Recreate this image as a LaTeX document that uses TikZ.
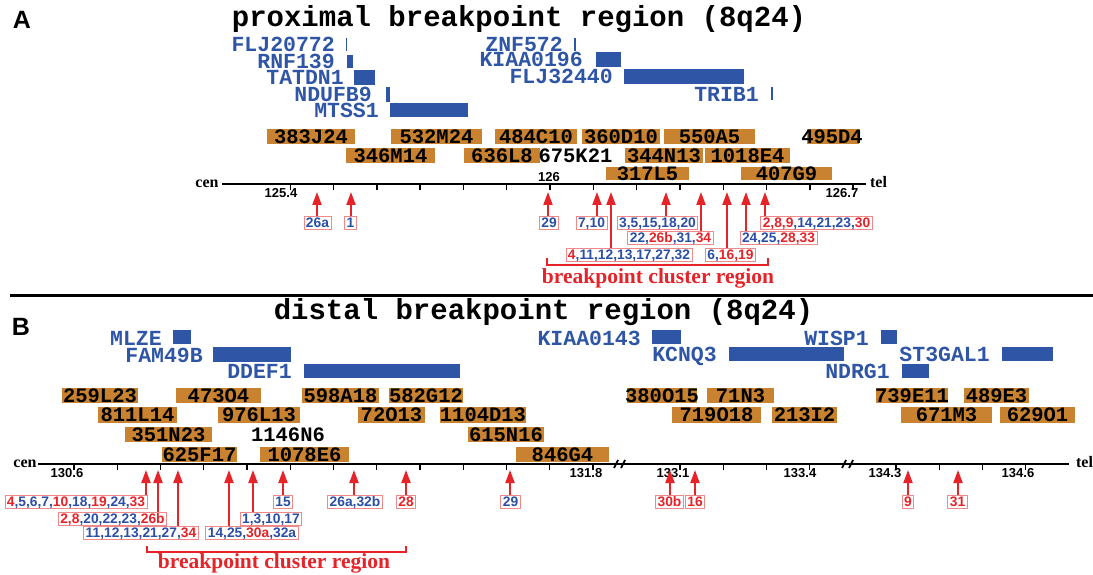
\documentclass[tikz,border=0pt]{standalone}
\usepackage{fontspec}
\setmainfont{Liberation Serif}
\newfontfamily\monof{Liberation Mono}
\newfontfamily\sansf{Liberation Sans}
\usetikzlibrary{arrows.meta}
\definecolor{gblue}{HTML}{2F56A6}
\definecolor{corange}{HTML}{C98230}
\definecolor{nred}{HTML}{E52329}
\definecolor{nblue}{HTML}{2A4FA6}
\definecolor{lborder}{HTML}{F08A8A}
\newcommand\rd[1]{\textcolor{nred}{#1}}
\newcommand\clonebx[6]{\fill[clonefill] (#2,#4) rectangle (#3,#5); \node[clonetext] (#1) at ({(#2+#3)/2},{(#4+#5)/2}) {#6};}
\tikzset{
  panel/.style={font=\sansf\bfseries\fontsize{25}{25}\selectfont, inner sep=0pt},
  title/.style={font=\monof\bfseries\fontsize{29}{29}\selectfont, inner sep=0pt, anchor=base},
  gene/.style={font=\monof\bfseries\fontsize{21.5}{21.5}\selectfont, text=gblue, inner sep=0pt, anchor=east, text depth=0pt},
  genebar/.style={fill=gblue},
  geneline/.style={draw=gblue, line width=2pt},
  clonefill/.style={fill=corange},
  clonetext/.style={font=\monof\bfseries\fontsize{20.5}{20.5}\selectfont, inner sep=0pt, text depth=0pt},
  axis/.style={line width=2pt},
  tickmark/.style={line width=1.4pt},
  axlab/.style={font=\sansf\bfseries\fontsize{13}{13}\selectfont, inner sep=0pt, text depth=0pt},
  endlab/.style={font=\rmfamily\bfseries\fontsize{16}{16}\selectfont, inner sep=0pt, anchor=base},
  lab/.style={draw=lborder, line width=0.8pt, fill=white, text=nblue, font=\sansf\bfseries\fontsize{13.8}{13.8}\selectfont, inner xsep=2pt, inner ysep=1.6pt, text height=9.9pt, text depth=0pt},
  arr/.style={draw=nred, line width=2pt, -{Triangle[length=13pt,width=9pt]}},
  brkt/.style={draw=nred, line width=2.5pt},
  bcr/.style={font=\rmfamily\bfseries\fontsize{21.5}{21.5}\selectfont, text=nred, anchor=base, inner sep=0pt},
}
\begin{document}
\begin{tikzpicture}[x=1pt,y=-1pt]
\useasboundingbox (0,0) rectangle (1093,575);
% ================= Panel A =================
\node[panel] (pA) at (22,20) {A};
\node[title] (tA) at (519,27) {proximal breakpoint region (8q24)};
% genes
\node[gene] (gFLJa) at (335,44.5) {FLJ20772};
\draw[gblue, line width=1.2pt] (346.5,38) -- (346.5,51);
\node[gene] (gRNF) at (335,61.5) {RNF139};
\fill[genebar] (347,55) rectangle (353,68);
\node[gene] (gTAT) at (344,77.5) {TATDN1};
\fill[genebar] (354,70) rectangle (375,85);
\node[gene] (gNDU) at (372,94.5) {NDUFB9};
\fill[genebar] (386,87) rectangle (390,102);
\node[gene] (gMTS) at (379,110.5) {MTSS1};
\fill[genebar] (390,103) rectangle (468,117);
\node[gene] (gZNF) at (563,44.5) {ZNF572};
\draw[geneline] (575,38) -- (575,51);
\node[gene] (gKIAa) at (583,59.5) {KIAA0196};
\fill[genebar] (596,52) rectangle (621,67);
\node[gene] (gFLJb) at (613,76.5) {FLJ32440};
\fill[genebar] (624,69) rectangle (744,84);
\node[gene] (gTRI) at (759,94) {TRIB1};
\draw[gblue, line width=2.5pt] (772,87) -- (772,100);
% clones
\clonebx{c383}{267}{355}{129}{144}{383J24}
\clonebx{c532}{391}{482}{129}{144}{532M24}
\clonebx{c484}{495}{577}{129}{144}{484C10}
\clonebx{c360}{582}{660}{129}{144}{360D10}
\clonebx{c550}{664}{755}{129}{144}{550A5}
\fill[clonefill] (807,129) rectangle (859,144);
\node[clonetext] (c495) at (832,136.5) {495D4};
\clonebx{c346}{346}{435}{148}{163}{346M14}
\clonebx{c636}{464}{540}{148}{163}{636L8}
\node[clonetext] (c675) at (575.5,155.5) {675K21};
\clonebx{c344}{625}{703}{148}{163}{344N13}
\clonebx{c1018}{705}{790}{148}{163}{1018E4}
\clonebx{c317}{606}{689}{167}{180}{317L5}
\clonebx{c407}{741}{832}{167}{180}{407G9}
% axis
\draw[axis] (222,184) -- (866,184);
\foreach \k in {-6,...,7} \draw[tickmark] ({550+43.3*\k},184) -- ++(0,6);
\node[endlab] (cenA) at (207,188) {cen};
\node[endlab] (telA) at (878.5,188) {tel};
\node[axlab] (xa1) at (281,192.5) {125.4};
\node[axlab] (xa2) at (549,177) {126};
\node[axlab] (xa3) at (842,192.5) {126.7};
% labels
\node[lab] (l26a) at (317.5,223) {26a};
\node[lab] (l1) at (350.5,223) {1};
\node[lab] (l29) at (549,223) {29};
\node[lab] (l7) at (591.5,223) {7,10};
\node[lab] (l3) at (657.5,223) {3,5,15,18,20};
\node[lab] (l2) at (816.5,223) {\rd{2,8,9},14,21,23,\rd{30}};
\node[lab] (l22) at (670.5,238) {22,\rd{26b},31,\rd{34}};
\node[lab] (l24) at (778.5,238) {24,25,\rd{28,33}};
\node[lab] (l4) at (629,254.5) {\rd{4},11,12,13,17,27,32};
\node[lab] (l6) at (730.5,254.5) {6,\rd{16,19}};
% arrow tips
\coordinate (a1) at (317,192);
\coordinate (a2) at (351,192);
\coordinate (a3) at (548,192);
\coordinate (a4) at (597,192);
\coordinate (a5) at (611,192);
\coordinate (a6) at (666,192);
\coordinate (a7) at (701,192);
\coordinate (a8) at (727,192);
\coordinate (a9) at (746,192);
\coordinate (a10) at (765,192);
\draw[arr] (l26a.north -| a1) -- (a1);
\draw[arr] (l1.north -| a2) -- (a2);
\draw[arr] (l29.north -| a3) -- (a3);
\draw[arr] (l7.north -| a4) -- (a4);
\draw[arr] (l4.north -| a5) -- (a5);
\draw[arr] (l3.north -| a6) -- (a6);
\draw[arr] (l22.north -| a7) -- (a7);
\draw[arr] (l6.north -| a8) -- (a8);
\draw[arr] (l24.north -| a9) -- (a9);
\draw[arr] (l2.north -| a10) -- (a10);
% bracket
\coordinate (bA1) at (547,258);
\coordinate (bA2) at (768,258);
\draw[brkt] (bA1) -- ++(0,7) -| (bA2);
\node[bcr] (bcrA) at (658,283) {breakpoint cluster region};
% divider
\draw[line width=3pt] (10,295) -- (1093,295);
% ================= Panel B =================
\node[panel] (pB) at (21,327) {B};
\node[title] (tB) at (543.5,319) {distal breakpoint region (8q24)};
% genes
\node[gene] (gMLZ) at (162,338.5) {MLZE};
\fill[genebar] (173,330) rectangle (191,344);
\node[gene] (gFAM) at (203,355) {FAM49B};
\fill[genebar] (213,347) rectangle (291,362);
\node[gene] (gDDE) at (292,371.5) {DDEF1};
\fill[genebar] (304,364) rectangle (460,378);
\node[gene] (gKIAb) at (641,338) {KIAA0143};
\fill[genebar] (652,330) rectangle (681,344);
\node[gene] (gKCN) at (717,354.5) {KCNQ3};
\fill[genebar] (729,347) rectangle (844,361);
\node[gene] (gWIS) at (869,338) {WISP1};
\fill[genebar] (881,330) rectangle (897,344);
\node[gene] (gST3) at (990,354.5) {ST3GAL1};
\fill[genebar] (1002,347) rectangle (1053,361);
\node[gene] (gNDR) at (890,371.5) {NDRG1};
\fill[genebar] (902,364) rectangle (929,378);
% clones
\clonebx{d259}{62}{138}{388}{403}{259L23}
\clonebx{d473}{176}{261}{388}{403}{473O4}
\clonebx{d598}{302}{379}{388}{403}{598A18}
\clonebx{d582}{389}{463}{388}{403}{582G12}
\clonebx{d380}{627}{697}{388}{403}{380O15}
\clonebx{d71}{707}{774}{388}{403}{71N3}
\clonebx{d739}{876}{948}{388}{403}{739E11}
\clonebx{d489}{964}{1029}{388}{403}{489E3}
\clonebx{d811}{98}{177}{407}{423}{811L14}
\clonebx{d976}{218}{300}{407}{423}{976L13}
\clonebx{d72}{358}{425}{407}{423}{72O13}
\clonebx{d1104}{440}{526}{407}{423}{1104D13}
\clonebx{d719}{672}{761}{407}{423}{719O18}
\clonebx{d213}{772}{837}{407}{423}{213I2}
\clonebx{d671}{901}{992}{407}{423}{671M3}
\clonebx{d629}{1000}{1075}{407}{423}{629O1}
\clonebx{d351}{125}{212}{427}{442}{351N23}
\node[clonetext] (d1146) at (288,434.5) {1146N6};
\clonebx{d615}{468}{544}{427}{442}{615N16}
\clonebx{d625}{162}{237}{447}{462}{625F17}
\clonebx{d1078}{260}{349}{447}{462}{1078E6}
\clonebx{d846}{516}{609}{447}{462}{846G4}
% axis
\draw[axis] (38,464) -- (1069,464);
\foreach \k in {0,...,12} \draw[tickmark] ({74+43.25*\k},464) -- ++(0,6);
\foreach \x in {680,723.25,766.5,809.75,896,939.25,982.5,1025.75} \draw[tickmark] (\x,464) -- ++(0,6);
\foreach \c in {620,848} {
  \draw[line width=1.8pt] (\c-6,468) -- (\c-2,460);
  \draw[line width=1.8pt] (\c+1,468) -- (\c+5,460);
}
\node[endlab] (cenB) at (25,467) {cen};
\node[endlab] (telB) at (1084.5,467) {tel};
\node[axlab] (xb1) at (67,473) {130.6};
\node[axlab] (xb2) at (586,473) {131.8};
\node[axlab] (xb3) at (673,473) {133.1};
\node[axlab] (xb4) at (800,473) {133.4};
\node[axlab] (xb5) at (885,473) {134.3};
\node[axlab] (xb6) at (1018,473) {134.6};
% labels
\node[lab] (m4) at (76,502) {\rd{4},5,6,7,\rd{10},18,\rd{19},24,\rd{33}};
\node[lab] (m15) at (283,502) {15};
\node[lab] (m26) at (355,502) {26a,32b};
\node[lab,text=nred] (m28) at (406,502) {28};
\node[lab] (m29) at (510.5,502) {29};
\node[lab,text=nred] (m30) at (669.5,502) {30b};
\node[lab,text=nred] (m16) at (695,502) {16};
\node[lab,text=nred] (m9) at (908,502) {9};
\node[lab,text=nred] (m31) at (957.5,502) {31};
\node[lab] (m2) at (112.5,518.5) {\rd{2,8},20,22,23,\rd{26b}};
\node[lab] (m1) at (271,518.5) {1,3,10,17};
\node[lab] (m11) at (141,533) {11,12,13,21,27,\rd{34}};
\node[lab] (m14) at (252,533) {14,25,\rd{30a},32a};
% arrow tips
\coordinate (b1) at (146,470);
\coordinate (b2) at (158,470);
\coordinate (b3) at (178,470);
\coordinate (b4) at (229,470);
\coordinate (b5) at (253,470);
\coordinate (b6) at (283,470);
\coordinate (b7) at (354,470);
\coordinate (b8) at (406,470);
\coordinate (b9) at (510,470);
\coordinate (b10) at (670,470);
\coordinate (b11) at (695,470);
\coordinate (b12) at (908,470);
\coordinate (b13) at (958,470);
\draw[arr] (m4.north -| b1) -- (b1);
\draw[arr] (m2.north -| b2) -- (b2);
\draw[arr] (m11.north -| b3) -- (b3);
\draw[arr] (m14.north -| b4) -- (b4);
\draw[arr] (m1.north -| b5) -- (b5);
\draw[arr] (m15.north -| b6) -- (b6);
\draw[arr] (m26.north -| b7) -- (b7);
\draw[arr] (m28.north -| b8) -- (b8);
\draw[arr] (m29.north -| b9) -- (b9);
\draw[arr] (m30.north -| b10) -- (b10);
\draw[arr] (m16.north -| b11) -- (b11);
\draw[arr] (m9.north -| b12) -- (b12);
\draw[arr] (m31.north -| b13) -- (b13);
% bracket
\coordinate (bB1) at (147,546);
\coordinate (bB2) at (406,546);
\draw[brkt] (bB1) -- ++(0,6) -| (bB2);
\node[bcr] (bcrB) at (274,568) {breakpoint cluster region};
\end{tikzpicture}
\end{document}
